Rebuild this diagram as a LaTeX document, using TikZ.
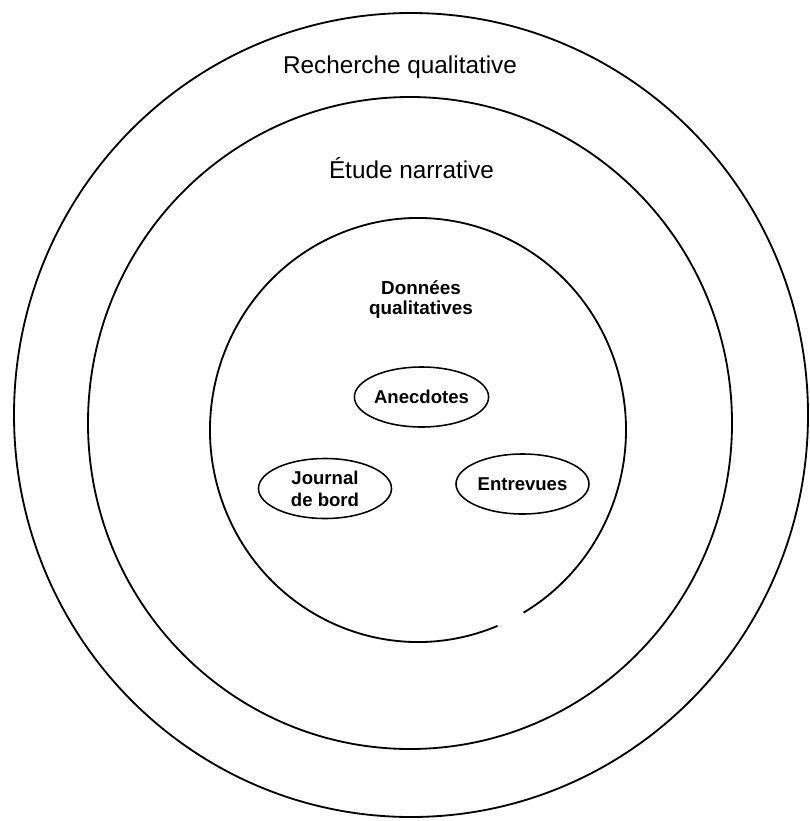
\documentclass[tikz,border=0pt]{standalone}
\usepackage{fontspec}
\setmainfont{Liberation Sans}
\usetikzlibrary{shapes.geometric}

\tikzset{
  ring/.style = {line width = 1.3pt},
  bubble/.style = {draw, ellipse, line width = 1.1pt, minimum width = 3.325cm,
    minimum height = 1.5cm, inner sep = 0pt, align = center,
    font = \fontsize{13.2}{15.6}\selectfont\bfseries},
  title/.style = {anchor = base, font = \fontsize{17.3}{20}\selectfont}
}

\begin{document}
\begin{tikzpicture}[x = 0.025cm, y = -0.025cm]
        \useasboundingbox (0,0) rectangle (809,821);

        \coordinate (c1) at (411,415);
        \coordinate (c2) at (410,423);
        \coordinate (c3) at (418,430);

        \draw [ring] (c1) ellipse [x radius = 397, y radius = 402];
        \draw [ring] (c2) ellipse [x radius = 322, y radius = 326];
        % inner ring, open at the lower right
        \draw [ring] (c3) ++(67.5:208 and 212)
            arc [start angle = 67.5, end angle = 419.5, x radius = 208, y radius = 212];

        \node [title] (recherche) at (400,73) {Recherche qualitative};
        \node [title] (etude) at (411.5,178) {Étude narrative};

        \node [align = center, inner sep = 0pt, font = \fontsize{13.4}{14.2}\selectfont\bfseries]
            (donnees) at (421,300) {Données\\qualitatives};

        \node [bubble] (anecdotes) at (421.5,397) {Anecdotes};
        \node [bubble] (journal) at (325,488.5) {Journal\\de bord};
        \node [bubble] (entrevues) at (522.5,484) {Entrevues};
    \end{tikzpicture}
\end{document}
